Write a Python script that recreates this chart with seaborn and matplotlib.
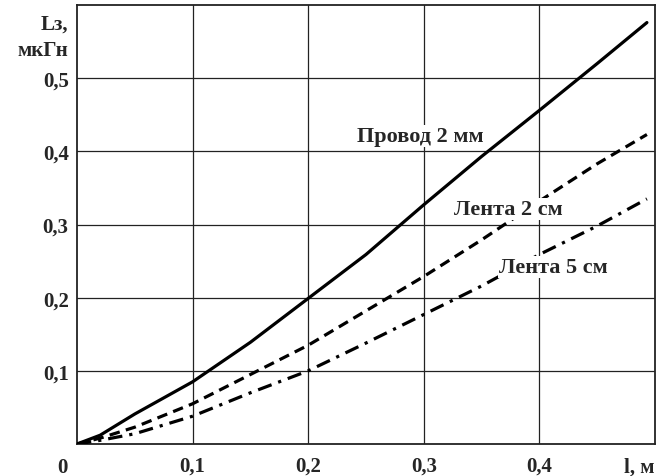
import matplotlib
matplotlib.use("Agg")
import matplotlib.pyplot as plt
import seaborn as sns
import pandas as pd

# Inductance of a conductor vs. its length
length_m = [0.0, 0.02, 0.05, 0.10, 0.15, 0.20, 0.25, 0.30, 0.35, 0.40, 0.45, 0.493]
wire_2mm = [0.0, 0.012, 0.041, 0.085, 0.139, 0.199, 0.259, 0.327, 0.393, 0.456, 0.520, 0.576]
strip_2cm = [0.0, 0.008, 0.023, 0.055, 0.095, 0.135, 0.182, 0.229, 0.279, 0.332, 0.383, 0.423]
strip_5cm = [0.0, 0.005, 0.014, 0.038, 0.070, 0.100, 0.138, 0.177, 0.216, 0.259, 0.298, 0.335]

series_names = ["Провод 2 мм", "Лента 2 см", "Лента 5 см"]
x_tick_values = [0.1, 0.2, 0.3, 0.4]
x_tick_labels = ["0,1", "0,2", "0,3", "0,4"]
y_tick_values = [0.1, 0.2, 0.3, 0.4, 0.5]
y_tick_labels = ["0,1", "0,2", "0,3", "0,4", "0,5"]

df = pd.concat([
    pd.DataFrame({"l": length_m, "L": vals, "series": name})
    for name, vals in zip(series_names, [wire_2mm, strip_2cm, strip_5cm])
], ignore_index=True)

sns.set_style("white")
plt.rcParams["font.family"] = ["Liberation Serif", "DejaVu Serif"]
plt.rcParams["font.weight"] = "bold"

fig = plt.figure(figsize=(6.56, 4.77), dpi=100)
ax = fig.add_axes([77 / 656, 32 / 477, 578 / 656, 439 / 477])

sns.lineplot(
    data=df, x="l", y="L", style="series", color="black", linewidth=2.3,
    dashes={"Провод 2 мм": "", "Лента 2 см": (3.3, 2.0), "Лента 5 см": (4.5, 2.2, 1.0, 2.2)},
    legend=False, ax=ax, zorder=3,
)

ax.set_xlim(0, 0.5)
ax.set_ylim(0, 0.6)
ax.set_xticks(x_tick_values)
ax.set_xticklabels(x_tick_labels)
ax.set_yticks(y_tick_values)
ax.set_yticklabels(y_tick_labels)
ax.tick_params(axis="x", length=0, labelsize=15, pad=8)
ax.tick_params(axis="y", length=0, labelsize=15, pad=6)
for lab in ax.get_xticklabels() + ax.get_yticklabels():
    lab.set_fontweight("bold")
ax.set_xlabel("")
ax.set_ylabel("")
ax.grid(True, color="#222222", linewidth=0.9)
ax.set_axisbelow(True)
for sp in ax.spines.values():
    sp.set_color("#222222")
    sp.set_linewidth(1.3)

# origin and axis names
ax.text(-0.013, -0.031, "0", ha="center", va="center",
        fontsize=15, fontweight="bold", clip_on=False)
ax.text(0.5, -0.031, "l, м", ha="right", va="center",
        fontsize=15, fontweight="bold", clip_on=False)
ax.text(-0.008, 0.574, "Lз,", ha="right", va="center", fontsize=15,
        fontweight="bold", clip_on=False)
ax.text(-0.008, 0.538, "мкГн", ha="right", va="center", fontsize=15,
        fontweight="bold", clip_on=False)

# curve labels on white boxes
label_pos = {"Провод 2 мм": (0.297, 0.421), "Лента 2 см": (0.373, 0.321), "Лента 5 см": (0.412, 0.242)}
for name, (lx, ly) in label_pos.items():
    ax.text(lx, ly, name, ha="center", va="center", fontsize=16, fontweight="bold",
            zorder=4, bbox=dict(facecolor="white", edgecolor="none", pad=1.0))

fig.savefig("out.png", dpi=100)
